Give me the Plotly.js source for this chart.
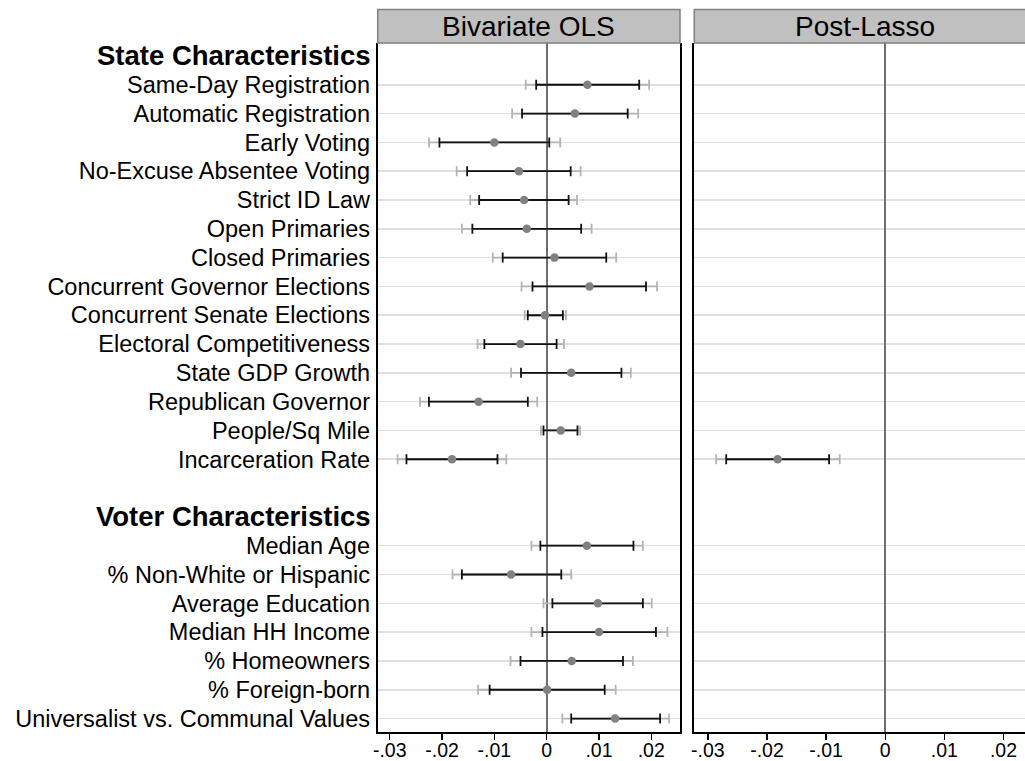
<!DOCTYPE html>
<html><head><meta charset="utf-8">
<script src="https://cdn.plot.ly/plotly-3.0.1.min.js"></script>
<style>html,body{margin:0;padding:0;overflow:hidden;background:#fff}#chart{width:1036px;height:761px}</style>
</head><body><div id="chart"></div>
<script>
const groupHeaders = ["State Characteristics", "Voter Characteristics"];
const panelTitles = ["Bivariate OLS", "Post-Lasso"];
const stateVars = ["Same-Day Registration", "Automatic Registration", "Early Voting",
  "No-Excuse Absentee Voting", "Strict ID Law", "Open Primaries", "Closed Primaries",
  "Concurrent Governor Elections", "Concurrent Senate Elections", "Electoral Competitiveness",
  "State GDP Growth", "Republican Governor", "People/Sq Mile", "Incarceration Rate"];
const voterVars = ["Median Age", "% Non-White or Hispanic", "Average Education",
  "Median HH Income", "% Homeowners", "% Foreign-born", "Universalist vs. Communal Values"];

// Bivariate OLS: estimate, 90% CI, 95% CI
const olsEst  = [0.0078, 0.0054, -0.0100, -0.0053, -0.0043, -0.0038, 0.0015, 0.0082, -0.0003, -0.0050, 0.0047, -0.0130, 0.0027, -0.0181,
                 0.0077, -0.0068, 0.0098, 0.0100, 0.0048, 0.0001, 0.0131];
const olsLo90 = [-0.0020, -0.0047, -0.0205, -0.0152, -0.0129, -0.0142, -0.0084, -0.0027, -0.0036, -0.0119, -0.0049, -0.0225, -0.0006, -0.0268,
                 -0.0012, -0.0162, 0.0011, -0.0008, -0.0050, -0.0109, 0.0047];
const olsHi90 = [0.0177, 0.0155, 0.0005, 0.0046, 0.0042, 0.0066, 0.0114, 0.0190, 0.0031, 0.0019, 0.0143, -0.0036, 0.0059, -0.0094,
                 0.0166, 0.0028, 0.0184, 0.0209, 0.0146, 0.0111, 0.0217];
const olsLo95 = [-0.0040, -0.0066, -0.0225, -0.0172, -0.0146, -0.0162, -0.0103, -0.0048, -0.0042, -0.0132, -0.0068, -0.0242, -0.0011, -0.0285,
                 -0.0029, -0.0180, -0.0006, -0.0029, -0.0069, -0.0131, 0.0030];
const olsHi95 = [0.0196, 0.0175, 0.0026, 0.0065, 0.0058, 0.0086, 0.0133, 0.0211, 0.0037, 0.0033, 0.0161, -0.0018, 0.0064, -0.0077,
                 0.0184, 0.0047, 0.0201, 0.0231, 0.0165, 0.0132, 0.0234];

// Post-Lasso: only Incarceration Rate selected
const N = null;
const lassoEst  = [N,N,N,N,N,N,N,N,N,N,N,N,N,-0.0182, N,N,N,N,N,N,N];
const lassoLo90 = [N,N,N,N,N,N,N,N,N,N,N,N,N,-0.0269, N,N,N,N,N,N,N];
const lassoHi90 = [N,N,N,N,N,N,N,N,N,N,N,N,N,-0.0095, N,N,N,N,N,N,N];
const lassoLo95 = [N,N,N,N,N,N,N,N,N,N,N,N,N,-0.0286, N,N,N,N,N,N,N];
const lassoHi95 = [N,N,N,N,N,N,N,N,N,N,N,N,N,-0.0077, N,N,N,N,N,N,N];

const xTickVals = [-0.03, -0.02, -0.01, 0, 0.01, 0.02];
const xTickText = ["-.03", "-.02", "-.01", "0", ".01", ".02"];

// row positions
const labels = stateVars.concat(voterVars);
const headerPos = [0, stateVars.length + 2];
const itemPos = stateVars.map((_, i) => i + 1).concat(voterVars.map((_, i) => stateVars.length + 3 + i));
const lastPos = itemPos[itemPos.length - 1];

const FONT = "Liberation Sans, Arial, Helvetica, sans-serif";
const W = 1036, H = 761;

function diff(a, b) { return a.map((v, i) => (v === null || b[i] === null) ? null : v - b[i]); }

function ciTraces(est, lo90, hi90, lo95, hi95, xa, ya) {
  return [
    { type: "scatter", mode: "markers", x: est, y: itemPos, xaxis: xa, yaxis: ya,
      marker: { size: 8.5, color: "rgba(0,0,0,0)" }, hoverinfo: "skip", showlegend: false,
      error_x: { type: "data", symmetric: false, array: diff(hi95, est), arrayminus: diff(est, lo95),
                 color: "#b4b4b4", thickness: 1.8, width: 5 } },
    { type: "scatter", mode: "markers", x: est, y: itemPos, xaxis: xa, yaxis: ya,
      marker: { size: 8.5, color: "#808080" }, hoverinfo: "skip", showlegend: false,
      error_x: { type: "data", symmetric: false, array: diff(hi90, est), arrayminus: diff(est, lo90),
                 color: "#111111", thickness: 1.8, width: 5 } }
  ];
}

const data = ciTraces(olsEst, olsLo90, olsHi90, olsLo95, olsHi95, "x", "y")
  .concat(ciTraces(lassoEst, lassoLo90, lassoHi90, lassoLo95, lassoHi95, "x2", "y2"));

const xRange = [-0.0323, 0.0255];
const yRange = [lastPos + 0.45, -0.45];
const dom1 = [377.7 / W, 680 / W];
const dom2 = [694.3 / W, 1];
const yDom = [29.5 / H, 718 / H];

const xCommon = {
  range: xRange, showgrid: false, zeroline: true, zerolinecolor: "#6e6e6e", zerolinewidth: 1.8,
  tickmode: "array", tickvals: xTickVals, ticktext: xTickText,
  ticks: "outside", ticklen: 6, tickwidth: 1.3, tickcolor: "#000", ticklabelstandoff: -6,
  showline: true, linecolor: "#000", linewidth: 2,
  tickfont: { family: FONT, size: 19.5, color: "#000" }, fixedrange: true
};
const yCommon = {
  range: yRange, domain: yDom, tickmode: "array", tickvals: itemPos,
  showgrid: true, gridcolor: "#e0e0e0", gridwidth: 1.6, zeroline: false,
  showline: true, linecolor: "#000", linewidth: 2, ticks: "", fixedrange: true
};

const layout = {
  width: W, height: H, margin: { l: 0, r: 0, t: 0, b: 0 },
  paper_bgcolor: "#fff", plot_bgcolor: "#fff", showlegend: false,
  font: { family: FONT, color: "#000" },
  xaxis: Object.assign({}, xCommon, { domain: dom1, anchor: "y" }),
  xaxis2: Object.assign({}, xCommon, { domain: dom2, anchor: "y2" }),
  yaxis: Object.assign({}, yCommon, { anchor: "x", mirror: true, ticktext: labels,
    tickfont: { family: FONT, size: 23.5, color: "#000" }, ticklabelstandoff: 1 }),
  yaxis2: Object.assign({}, yCommon, { anchor: "x2", showticklabels: false }),
  shapes: [
    { type: "rect", xref: "x domain", yref: "paper", x0: 0, x1: 1, y0: 718 / H, y1: 751.5 / H,
      fillcolor: "#c0c0c0", line: { color: "#808080", width: 1.5 }, layer: "above" },
    { type: "rect", xref: "x2 domain", yref: "paper", x0: 0, x1: 1, y0: 718 / H, y1: 751.5 / H,
      fillcolor: "#c0c0c0", line: { color: "#808080", width: 1.5 }, layer: "above" }
  ],
  annotations: [
    { xref: "x domain", yref: "paper", x: 0.5, y: 734.75 / H, text: panelTitles[0], showarrow: false,
      xanchor: "center", yanchor: "middle", font: { family: FONT, size: 28, color: "#000" } },
    { xref: "x2 domain", yref: "paper", x: 0.5, y: 734.75 / H, text: panelTitles[1], showarrow: false,
      xanchor: "center", yanchor: "middle", font: { family: FONT, size: 28, color: "#000" } }
  ].concat(groupHeaders.map((h, i) => ({
      xref: "paper", yref: "y", x: 373 / W, y: headerPos[i], text: "<b>" + h + "</b>", showarrow: false,
      xanchor: "right", yanchor: "middle", font: { family: FONT, size: 27.5, color: "#000" } })))
};

Plotly.newPlot("chart", data, layout, { staticPlot: true, displayModeBar: false });
</script>
</body></html>
